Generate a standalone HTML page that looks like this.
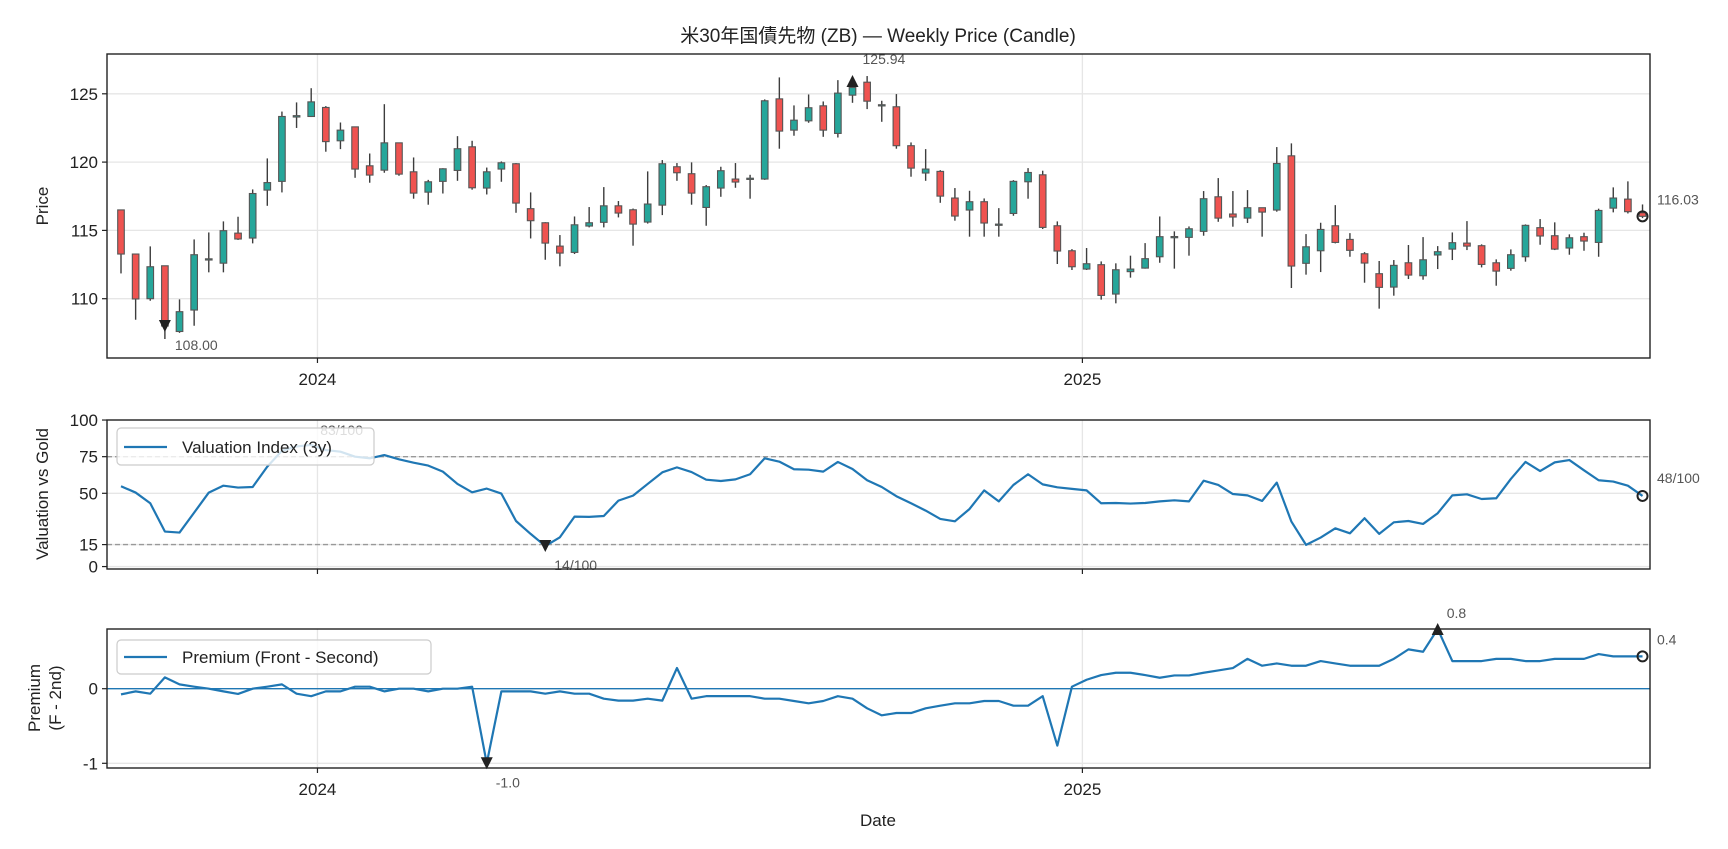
<!DOCTYPE html>
<html><head><meta charset="utf-8"><title>ZB Weekly</title>
<style>
html,body{margin:0;padding:0;background:#fff;}
svg{display:block;font-family:"Liberation Sans","Noto Sans CJK JP",sans-serif;}
</style></head>
<body>
<svg id="chart" width="1728" height="849" viewBox="0 0 1728 849" xmlns="http://www.w3.org/2000/svg">
<rect x="0" y="0" width="1728" height="849" fill="#fff"/>
<text x="878" y="42" text-anchor="middle" font-size="19" fill="#222">米30年国債先物 (ZB) — Weekly Price (Candle)</text>
<g id="g-price"></g>
<g id="g-val"></g>
<g id="g-prem"></g>
<text transform="translate(48,206) rotate(-90)" text-anchor="middle" font-size="17" fill="#222">Price</text>
<text transform="translate(48,494) rotate(-90)" text-anchor="middle" font-size="17" fill="#222">Valuation vs Gold</text>
<text transform="translate(40,698) rotate(-90)" text-anchor="middle" font-size="17" fill="#222">Premium</text>
<text transform="translate(61,698) rotate(-90)" text-anchor="middle" font-size="17" fill="#222">(F - 2nd)</text>
<text x="878" y="826" text-anchor="middle" font-size="17" fill="#222">Date</text>
</svg>
<script>
const opens = [116.5,113.27,110.0,112.41,107.6,109.17,112.9,112.6,114.8,114.44,117.95,118.59,123.3,123.34,124.0,121.56,122.58,119.73,119.41,121.41,119.29,117.8,118.59,119.39,121.12,118.1,119.49,119.88,116.59,115.56,113.85,113.39,115.32,115.59,116.8,
116.51,115.61,116.85,119.66,119.15,116.68,118.1,118.76,118.8,118.76,124.63,122.34,123.02,124.12,122.1,124.9,125.85,124.2,124.05,121.2,119.2,119.32,117.37,116.49,117.1,115.41,116.24,118.56,119.07,115.34,113.51,112.17,112.49,110.34,111.98,
112.24,113.07,114.5,114.49,114.93,117.46,116.2,115.9,116.66,116.49,120.46,112.59,113.51,115.34,114.34,113.29,111.83,110.85,112.63,111.68,113.2,113.63,114.07,113.88,112.63,112.22,113.07,115.2,114.61,113.71,114.54,114.12,116.63,117.29,116.29];
const closes = [113.27,109.98,112.34,108.0,109.05,113.22,112.92,114.98,114.37,117.7,118.5,123.34,123.4,124.41,121.5,122.34,119.49,119.05,121.41,119.12,117.73,118.56,119.51,120.98,118.12,119.29,119.95,117.0,115.71,114.07,113.34,115.41,115.56,116.8,116.27,
115.46,116.93,119.88,119.22,117.73,118.2,119.37,118.54,118.82,124.49,122.27,123.07,123.98,122.34,125.05,125.46,124.46,124.2,121.2,119.56,119.49,117.51,116.05,117.1,115.54,115.46,118.59,119.24,115.22,113.49,112.34,112.56,110.24,112.12,112.17,
112.93,114.54,114.55,115.12,117.32,115.9,115.98,116.66,116.34,119.9,112.39,113.8,115.07,114.12,113.54,112.61,110.83,112.44,111.73,112.85,113.44,114.1,113.85,112.51,112.02,113.22,115.37,114.59,113.63,114.46,114.22,116.46,117.37,116.37,116.03];
const highs = [116.5,113.3,113.83,112.41,109.95,114.34,114.85,115.66,116.0,118.0,120.27,123.7,124.37,125.41,124.1,122.9,122.6,120.63,124.24,121.41,120.34,118.7,119.55,121.9,121.56,119.6,120.05,119.93,117.78,115.6,114.66,116.02,116.71,118.17,117.15,
116.6,119.32,120.15,119.93,119.98,118.32,119.66,119.93,119.07,124.59,126.2,124.15,124.95,124.44,126.0,125.94,126.3,124.49,124.98,121.44,120.95,119.41,118.1,117.9,117.34,116.63,118.68,119.56,119.37,115.66,113.63,113.71,112.73,112.59,113.15,
114.07,116.02,114.93,115.29,117.88,118.83,117.88,117.95,116.66,121.1,121.37,114.73,115.56,116.85,114.8,113.41,112.76,112.83,113.93,114.51,113.85,114.85,115.68,113.98,112.88,113.61,115.44,115.83,115.59,114.71,114.83,116.59,118.15,118.59,116.9];
const lows = [111.85,108.46,109.85,107.05,107.5,108.02,111.93,111.93,114.3,114.05,116.8,117.78,122.5,123.3,120.76,120.95,118.85,118.49,119.22,119.0,117.32,116.88,117.7,118.63,117.98,117.63,118.56,116.29,114.41,112.85,112.37,113.27,115.22,115.22,115.95,
113.88,115.5,116.12,118.63,116.88,115.34,117.46,118.12,117.32,118.7,120.98,121.93,122.88,121.85,121.8,124.34,123.88,122.95,120.98,118.93,118.63,117.02,115.71,114.54,114.54,114.54,116.07,117.32,115.1,112.54,112.1,112.1,109.93,109.66,111.54,
112.2,112.63,112.2,113.15,114.61,115.63,115.27,115.54,114.54,116.37,110.78,111.76,111.95,114.05,113.07,111.17,109.27,110.22,111.44,111.39,112.17,112.83,113.56,112.29,110.95,112.05,112.71,113.95,113.56,113.22,113.51,113.07,116.32,116.24,115.9];
const valuation = [54.8,50.5,43.2,23.9,23.2,36.8,50.5,55.2,53.9,54.3,68.2,79,82,83,79.5,78.4,75,73.9,76.1,73.2,70.9,68.9,64.8,56.4,50.7,53.2,49.8,31.1,22.3,14,20,34.1,33.9,34.5,45,
48.4,56.4,64.3,67.7,64.5,59.3,58.4,59.5,63,73.9,71.6,66.4,66.1,64.8,71.4,66.6,58.9,54.3,48,43.2,38.2,32.5,30.9,39.3,52,44.5,55.7,63,56.1,54.1,53,52,43.2,43.4,43,
43.4,44.5,45.2,44.5,58.6,55.7,49.5,48.6,44.8,57.3,30.7,14.8,19.8,26.1,22.7,33,22.3,30.2,31.1,29.1,36.4,48.6,49.3,46.1,46.6,59.8,71.4,65.2,71.1,72.7,65.7,58.9,58,55.2,48.2];
const premium = [-0.076,-0.036,-0.067,0.152,0.058,0.027,0,-0.036,-0.07,0,0.027,0.058,-0.067,-0.1,-0.036,-0.036,0.027,0.027,-0.036,0,0,-0.036,0,0,0.027,-1.0,-0.036,-0.036,-0.036,-0.067,-0.036,-0.067,-0.067,-0.134,-0.16,
-0.16,-0.134,-0.16,0.277,-0.134,-0.1,-0.1,-0.1,-0.1,-0.134,-0.134,-0.165,-0.196,-0.165,-0.1,-0.134,-0.263,-0.357,-0.326,-0.326,-0.263,-0.228,-0.196,-0.196,-0.165,-0.165,-0.228,-0.228,-0.1,-0.763,0.027,0.12,0.183,0.214,0.214,
0.183,0.147,0.178,0.178,0.214,0.245,0.277,0.4,0.308,0.339,0.308,0.308,0.37,0.339,0.308,0.308,0.308,0.4,0.527,0.495,0.8,0.37,0.37,0.37,0.4,0.4,0.37,0.37,0.4,0.4,0.4,0.464,0.433,0.433,0.433];
const priceTicks = [110,115,120,125];
const valTicks = [0,15,50,75,100];
const valRefLines = [15,75];
const premTicks = [-1,0];
const yearLabels = ['2024','2025'];
const yearDates = ['2024-01-01','2025-01-01'];
const priceNotes = [{i:3,v:108.00,t:'108.00',dir:'down'},{i:50,v:125.94,t:'125.94',dir:'up'}];
const valNotes = [{i:13,v:83,t:'83/100'},{i:29,v:14,t:'14/100'}];
const premNotes = [{i:90,v:0.8,t:'0.8',dir:'up'},{i:25,v:-1.0,t:'-1.0',dir:'down'}];
const lastPriceLabel = '116.03';
const lastValLabel = '48/100';
const lastPremLabel = '0.4';

const NS='http://www.w3.org/2000/svg';
const startMs = Date.UTC(2023,8,29);
const DAY = 864e5;
const L=107, R=1650;
function dateOf(i){ return startMs + i*7*DAY; }
function xOfMs(ms){ return 121 + (ms-startMs)/(7*DAY)*14.63; }
function xOf(i){ return xOfMs(dateOf(i)); }
function yPrice(p){ return 298.7-(p-110)*13.66; }
function yVal(v){ return 493.3-(v-50)*1.4653; }
function yPrem(v){ return 688.7-v*74.6; }
const P={top:54,bot:358}, V={top:420,bot:569}, Q={top:629,bot:768};

function mk(tag,attrs,parent){const e=document.createElementNS(NS,tag);for(const k in attrs)e.setAttribute(k,attrs[k]);parent.appendChild(e);return e;}
function tri(cx,cy,dir,parent){const s=6;const pts=dir==='up'?`${cx-s},${cy+s} ${cx+s},${cy+s} ${cx},${cy-s}`:`${cx-s},${cy-s} ${cx+s},${cy-s} ${cx},${cy+s}`;return mk('polygon',{points:pts,fill:'#222'},parent);}

function frame(g,box,ticks,yf,labels,showX,name){
  // horizontal grid
  ticks.forEach(t=>{const y=yf(t);
    const gl=mk('line',{x1:L,x2:R,y1:y,y2:y,stroke:'#e6e6e6','stroke-width':1.3},g);
    
    
    const tk=mk('line',{x1:L-5,x2:L,y1:y,y2:y,stroke:'#222','stroke-width':1.2},g);
    
    
    const tl=mk('text',{x:L-9,y:y+6,'text-anchor':'end','font-size':17,fill:'#222'},g);
    tl.textContent=String(t);
    
    
  });
  yearDates.forEach((d,k)=>{const x=xOfMs(Date.parse(d));
    const gl=mk('line',{x1:x,x2:x,y1:box.top,y2:box.bot,stroke:'#e6e6e6','stroke-width':1.3},g);
    
    
    const tk=mk('line',{x1:x,x2:x,y1:box.bot,y2:box.bot+5,stroke:'#222','stroke-width':1.2},g);
    
    
    if(showX){const tl=mk('text',{x:x,y:box.bot+27,'text-anchor':'middle','font-size':17,fill:'#222'},g);
      tl.textContent=yearLabels[k];
      
      }
  });
}
function border(g,box,name){const b=mk('rect',{x:L,y:box.top,width:R-L,height:box.bot-box.top,fill:'none',stroke:'#222','stroke-width':1.4},g);
  
  }

// PRICE
const gp=document.getElementById('g-price');
frame(gp,P,priceTicks,yPrice,null,true,'price');
opens.forEach((o,i)=>{const c=closes[i],x=xOf(i);const up=c>=o;
  const cg=mk('g',{},gp);
  
  
  mk('line',{x1:x,x2:x,y1:yPrice(highs[i]),y2:yPrice(lows[i]),stroke:'#3d3d3d','stroke-width':1.4},cg);
  const t=Math.min(yPrice(o),yPrice(c)),h=Math.max(1.2,Math.abs(yPrice(o)-yPrice(c)));
  mk('rect',{x:x-3.3,y:t,width:6.6,height:h,fill:up?'#26a69a':'#ef5350',stroke:'#555','stroke-width':1.1},cg);
});
priceNotes.forEach(n=>{const x=xOf(n.i),y=yPrice(n.v);const m=tri(x,y,n.dir,gp);
  
  
  const tx=mk('text',{x:x+10,y:n.dir==='up'?y-17:y+24,'font-size':14,fill:'#555'},gp);tx.textContent=n.t;
  
  });
{const i=closes.length-1,x=xOf(i),y=yPrice(closes[i]);
 const c=mk('circle',{cx:x,cy:y,r:5,fill:'none',stroke:'#222','stroke-width':2},gp);
 
 
 const tx=mk('text',{x:1657,y:y-12,'font-size':14,fill:'#555'},gp);tx.textContent=lastPriceLabel;
 
 }
border(gp,P,'price');

// VALUATION
const gv=document.getElementById('g-val');
frame(gv,V,valTicks,yVal,null,false,'valuation');
valRefLines.forEach(v=>{const y=yVal(v);const l=mk('line',{x1:L,x2:R,y1:y,y2:y,stroke:'#999','stroke-width':1.3,'stroke-dasharray':'5,3'},gv);
  
  });
{const pl=mk('polyline',{points:valuation.map((v,i)=>xOf(i)+','+yVal(v)).join(' '),fill:'none',stroke:'#1f77b4','stroke-width':2.2,'stroke-linejoin':'round'},gv);
 
 }
valNotes.forEach(n=>{const x=xOf(n.i),y=yVal(n.v);
  if(n.v<50){const m=tri(x,y,'down',gv);}
  const tx=mk('text',{x:x+9,y:n.v<50?y+24:y-10,'font-size':14,fill:'#555'},gv);tx.textContent=n.t;
  
  });
{const i=valuation.length-1,x=xOf(i),y=yVal(valuation[i]);
 const c=mk('circle',{cx:x,cy:y,r:5,fill:'none',stroke:'#222','stroke-width':2},gv);
 
 
 const tx=mk('text',{x:1657,y:y-13,'font-size':14,fill:'#555'},gv);tx.textContent=lastValLabel;
 
 }
{const lg=mk('g',{},gv);
 
 
 mk('rect',{x:117,y:428,width:257,height:37,rx:4,fill:'#fff','fill-opacity':0.8,stroke:'#ccc','stroke-width':1.2},lg);
 mk('line',{x1:124,x2:167,y1:447,y2:447,stroke:'#1f77b4','stroke-width':2.2},lg);
 const t=mk('text',{x:182,y:453,'font-size':17,fill:'#222'},lg);t.textContent='Valuation Index (3y)';}
border(gv,V,'valuation');

// PREMIUM
const gq=document.getElementById('g-prem');
frame(gq,Q,premTicks,yPrem,null,true,'premium');
{const z=mk('line',{x1:L,x2:R,y1:yPrem(0),y2:yPrem(0),stroke:'#1f77b4','stroke-width':1.4},gq);
 
 }
{const pl=mk('polyline',{points:premium.map((v,i)=>xOf(i)+','+yPrem(v)).join(' '),fill:'none',stroke:'#1f77b4','stroke-width':2.2,'stroke-linejoin':'round'},gq);
 
 }
premNotes.forEach(n=>{const x=xOf(n.i),y=yPrem(n.v);const m=tri(x,y,n.dir,gq);
  
  
  const tx=mk('text',{x:x+9,y:n.dir==='up'?y-11:y+24,'font-size':14,fill:'#555'},gq);tx.textContent=n.t;
  
  });
{const i=premium.length-1,x=xOf(i),y=yPrem(premium[i]);
 const c=mk('circle',{cx:x,cy:y,r:5,fill:'none',stroke:'#222','stroke-width':2},gq);
 
 
 const tx=mk('text',{x:1657,y:y-12,'font-size':14,fill:'#555'},gq);tx.textContent=lastPremLabel;
 
 }
{const lg=mk('g',{},gq);
 
 
 mk('rect',{x:117,y:640,width:314,height:34,rx:4,fill:'#fff','fill-opacity':0.8,stroke:'#ccc','stroke-width':1.2},lg);
 mk('line',{x1:124,x2:167,y1:657,y2:657,stroke:'#1f77b4','stroke-width':2.2},lg);
 const t=mk('text',{x:182,y:663,'font-size':17,fill:'#222'},lg);t.textContent='Premium (Front - Second)';}
border(gq,Q,'premium');
</script>
</body></html>
